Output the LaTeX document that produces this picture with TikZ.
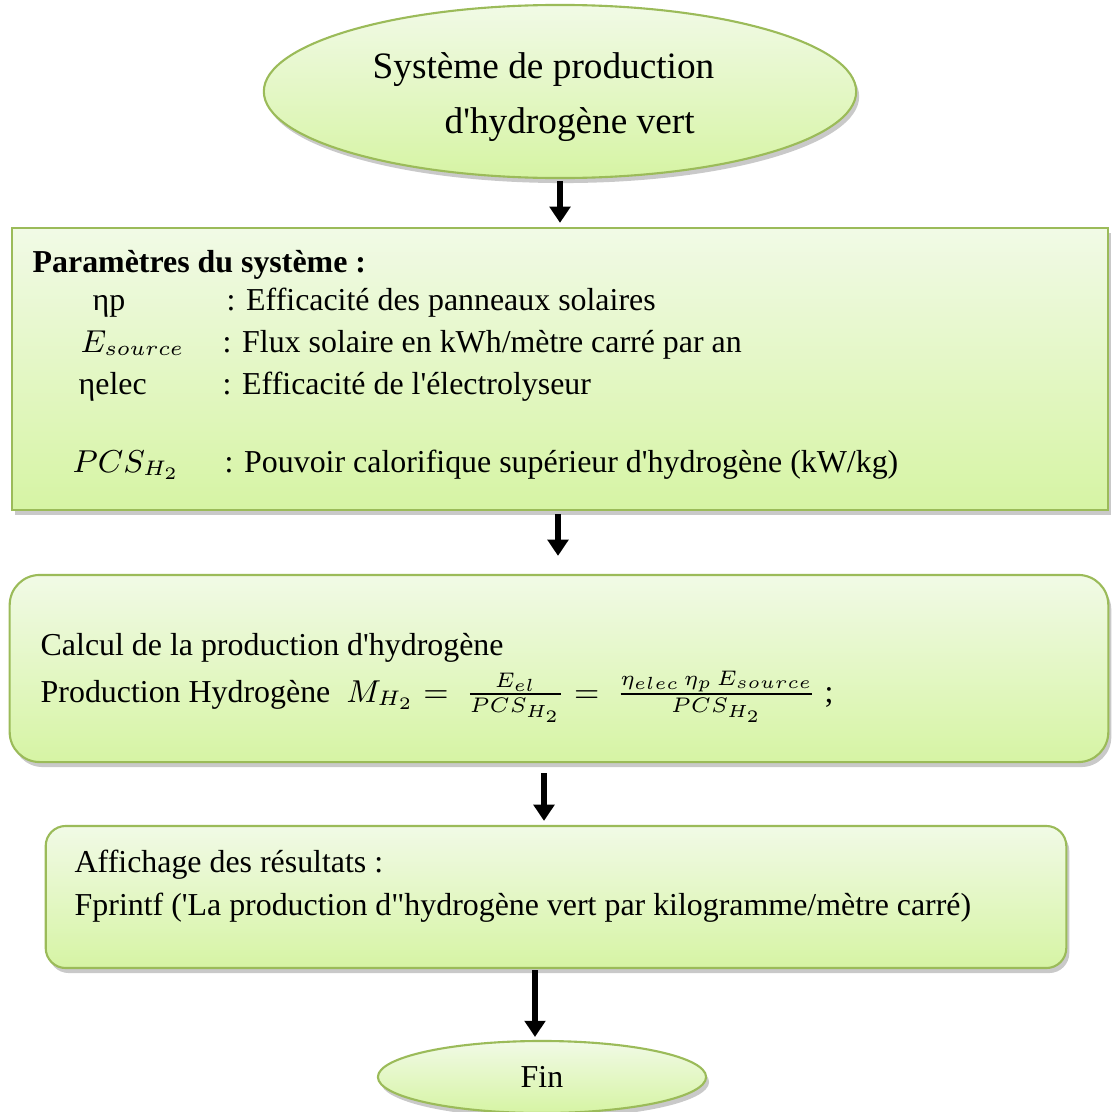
\documentclass[tikz,border=0pt]{standalone}
\usepackage{fontspec}
\setmainfont{Liberation Serif}[Ligatures=TeXOff]
\usetikzlibrary{shapes.geometric,shadows,arrows.meta,calc}

\definecolor{boxline}{RGB}{155,187,89}
\definecolor{boxtop}{RGB}{241,250,230}
\definecolor{boxbot}{RGB}{214,244,164}

\tikzset{
  txt/.style={font=\fontsize{9.07pt}{11pt}\selectfont, inner sep=0pt, anchor=base west},
  bigtxt/.style={font=\fontsize{10.6pt}{15.6pt}\selectfont, inner sep=0pt, anchor=base west},
  panel/.style={draw=boxline, line width=0.6pt, top color=boxtop, bottom color=boxbot,
    drop shadow={shadow xshift=0.3mm, shadow yshift=-0.5mm, opacity=0.3, fill=black!70},
    inner sep=0pt},
  flow/.style={-{Triangle[width=5.8pt,length=4.6pt]}, line width=1.7pt, black},
}

\begin{document}
\begin{tikzpicture}[x=0.01cm,y=-0.01cm]
\useasboundingbox (0,0) rectangle (1112,1112);

% start ellipse
\node[panel, ellipse, minimum width=59.2mm, minimum height=17.3mm] (start) at (560,91.5) {};
\node[bigtxt] (title1) at (372,78) {Système de production};
\node[bigtxt] (title2) at (444,133) {d'hydrogène vert};

% parameters
\node[panel, rectangle, minimum width=109.6mm, minimum height=28.2mm] (params) at (560,369) {};
\node[txt] (ptitle) at (32,272) {\bfseries Paramètres du système :};
\node[txt] (s1) at (92,310) {ηp};
\node[txt] (d1) at (226,310) {: Efficacité des panneaux solaires};
\node[txt] (s2) at (80,352) {$E_{source}$};
\node[txt] (d2) at (222,352) {: Flux solaire en kWh/mètre carré par an};
\node[txt] (s3) at (78,394) {ηelec};
\node[txt] (d3) at (222,394) {: Efficacité de l'électrolyseur};
\node[txt] (s4) at (72,472) {$PCS_{H_2}$};
\node[txt] (d4) at (224,472) {: Pouvoir calorifique supérieur d'hydrogène (kW/kg)};

% computation
\node[panel, rounded corners=3mm, minimum width=109.8mm, minimum height=18.7mm] (compute) at (559,668.5) {};
\node[txt] (c1) at (40,655) {Calcul de la production d'hydrogène};
\node[txt] (c2) at (40,702) {Production Hydrogène\ \ $M_{H_2} =\ \frac{E_{el}}{PCS_{H_2}} = \ \frac{\eta_{elec}\,\eta_p\,E_{source}}{PCS_{H_2}}$ ;};

% output
\node[panel, rounded corners=2mm, minimum width=102mm, minimum height=14.2mm] (show) at (556,897) {};
\node[txt] (r1) at (74,872) {Affichage des résultats :};
\node[txt] (r2) at (74,915) {Fprintf ('La production d"hydrogène vert par kilogramme/mètre carré)};

% end
\node[panel, ellipse, minimum width=32.8mm, minimum height=7.2mm,
      font=\fontsize{9.07pt}{11pt}\selectfont] (fin) at (542,1077) {Fin};

% connectors
\coordinate (a2) at (558,0);
\coordinate (a3) at (544,0);
\coordinate (a4) at (535,0);
\draw[flow, shorten <=0.2mm, shorten >=0.4mm] (start.south) -- (params.north);
\draw[flow, shorten <=0.3mm, shorten >=1.8mm] (params.south -| a2) -- (compute.north -| a2);
\draw[flow, shorten <=1.0mm, shorten >=0.4mm] (compute.south -| a3) -- (show.north -| a3);
\draw[flow, shorten <=0.1mm, shorten >=0.3mm] (show.south -| a4) -- (fin.north -| a4);
\end{tikzpicture}
\end{document}
